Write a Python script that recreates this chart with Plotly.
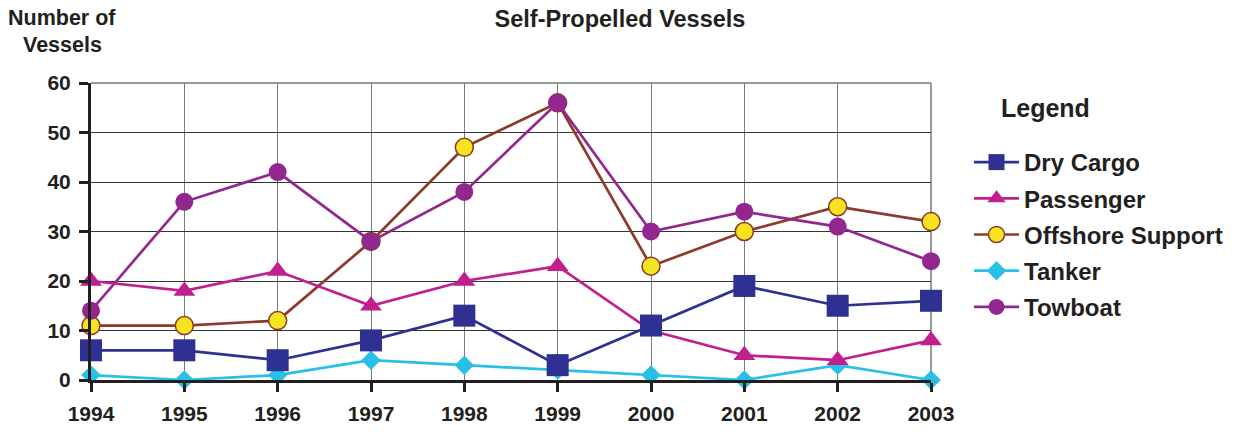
import plotly.graph_objects as go

years = [1994, 1995, 1996, 1997, 1998, 1999, 2000, 2001, 2002, 2003]
dry_cargo = [6, 6, 4, 8, 13, 3, 11, 19, 15, 16]
passenger = [20, 18, 22, 15, 20, 23, 10, 5, 4, 8]
offshore = [11, 11, 12, 28, 47, 56, 23, 30, 35, 32]
tanker = [1, 0, 1, 4, 3, 2, 1, 0, 3, 0]
towboat = [14, 36, 42, 28, 38, 56, 30, 34, 31, 24]
y_ticks = [0, 10, 20, 30, 40, 50, 60]

FONT = "Liberation Sans, Arial, sans-serif"
INK = "#231F20"

fig = go.Figure()

def add(name, y, color, symbol, size, rank, mcolor=None, mline=None):
    fig.add_trace(go.Scatter(
        x=years, y=y, name=f"<b>{name}</b>", mode="lines+markers",
        legendgroup=name, legendrank=rank,
        line=dict(color=color, width=2.7),
        marker=dict(symbol=symbol, size=size, color=mcolor or color,
                    line=dict(color=mline or (mcolor or color), width=1.5 if mline else 0)),
        cliponaxis=False,
    ))

add("Tanker", tanker, "#29C0E8", "diamond", 15, 4)
add("Offshore Support", offshore, "#8B3A2B", "circle", 18, 3, "#F7E41E", "#8B3A2B")
add("Towboat", towboat, "#92278F", "circle", 18, 5)
add("Passenger", passenger, "#C01F8E", "triangle-up", 19, 2)
add("Dry Cargo", dry_cargo, "#2E3192", "square", 22, 1)

# page body has an 8px margin: figure coords = image coords - 8
OFF = 8
FW, FH = 1223, 416
L, R, T, B = 91 - OFF, 931 - OFF, 83 - OFF, 380 - OFF
W = R - L
H = B - T

fig.update_layout(
    width=FW, height=FH,
    margin=dict(l=L, r=FW - R, t=T, b=FH - B, autoexpand=False),
    paper_bgcolor="white", plot_bgcolor="white",
    font=dict(family=FONT, color=INK),
    title=dict(text="<b>Self-Propelled Vessels</b>", x=(620 - OFF) / FW, xref="container",
               xanchor="center", y=1 - (19 - OFF) / FH, yref="container", yanchor="middle",
               font=dict(size=23.5, family=FONT, color=INK)),
    showlegend=True,
    legend=dict(x=(969 - OFF - L) / W, xanchor="left", y=(B - (140 - OFF)) / H, yanchor="top",
                font=dict(size=24, family=FONT, color=INK), itemwidth=45,
                tracegroupgap=2, itemsizing="trace", bgcolor="rgba(0,0,0,0)"),
    xaxis=dict(range=[1994, 2003], tickvals=years, ticktext=[f"<b>{y}</b>" for y in years],
               showgrid=True, gridcolor="#7a7a7a", gridwidth=1,
               showline=True, linecolor=INK, linewidth=3,
               ticks="outside", ticklen=9, tickwidth=3, tickcolor=INK,
               tickfont=dict(size=21, family=FONT, color=INK),
               ticklabelstandoff=4, zeroline=False, fixedrange=True, automargin=False),
    yaxis=dict(range=[0, 60], tickvals=y_ticks, ticktext=[f"<b>{v}</b>" for v in y_ticks],
               showgrid=True, gridcolor="#333333", gridwidth=1,
               showline=True, linecolor=INK, linewidth=3,
               ticks="outside", ticklen=9, tickwidth=3, tickcolor=INK,
               tickfont=dict(size=21, family=FONT, color=INK),
               ticklabelstandoff=4, zeroline=False, fixedrange=True, automargin=False),
    shapes=[
        dict(type="line", xref="paper", yref="paper", x0=0, x1=1, y0=1, y1=1,
             line=dict(color="#9a9a9a", width=2), layer="below"),
        dict(type="line", xref="paper", yref="paper", x0=1, x1=1, y0=0, y1=1,
             line=dict(color="#9a9a9a", width=2), layer="below"),
    ],
    annotations=[
        dict(text="<b>Number of</b>", xref="paper", yref="paper",
             x=(62 - OFF - L) / W, y=(B - (18 - OFF)) / H, xanchor="center", yanchor="middle",
             showarrow=False, font=dict(size=21.5, family=FONT, color=INK)),
        dict(text="<b>Vessels</b>", xref="paper", yref="paper",
             x=(62 - OFF - L) / W, y=(B - (45 - OFF)) / H, xanchor="center", yanchor="middle",
             showarrow=False, font=dict(size=21.5, family=FONT, color=INK)),
        dict(text="<b>Legend</b>", xref="paper", yref="paper",
             x=(1045 - OFF - L) / W, y=(B - (108 - OFF)) / H, xanchor="center", yanchor="middle",
             showarrow=False, font=dict(size=25, family=FONT, color=INK)),
    ],
)

fig.write_html("out.html")
